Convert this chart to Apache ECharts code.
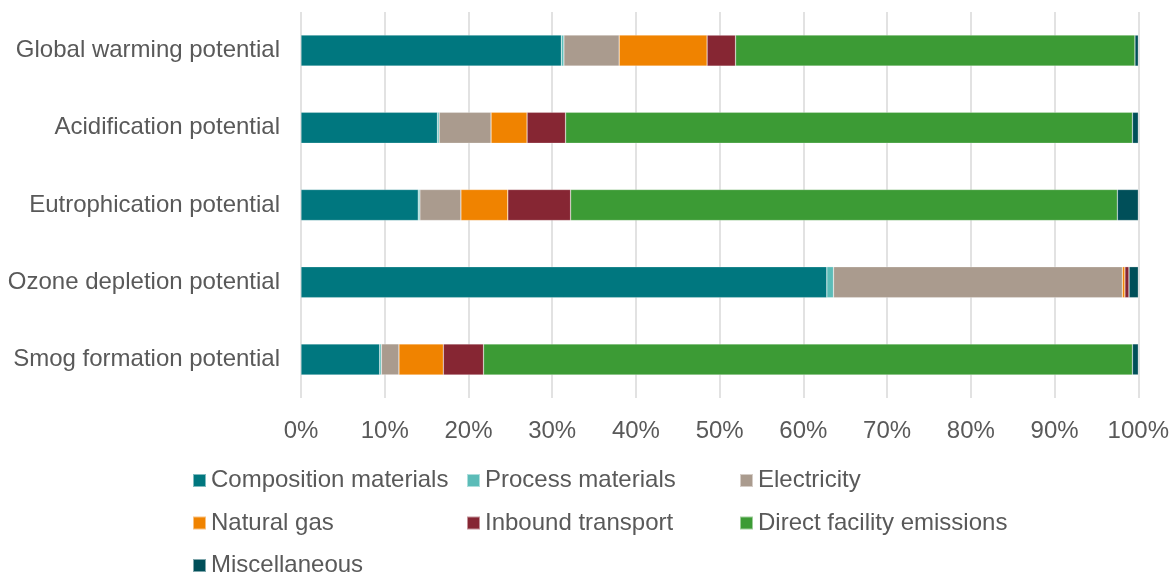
<!DOCTYPE html>
<html>
<head>
<meta charset="utf-8">
<script src="https://cdn.jsdelivr.net/npm/echarts@6/dist/echarts.min.js"></script>
<style>html,body{margin:0;padding:0;background:#fff}#c{width:1172px;height:575px}</style>
</head>
<body>
<div id="c"></div>
<script>
const categories = ['Global warming potential','Acidification potential','Eutrophication potential','Ozone depletion potential','Smog formation potential'];
const seriesNames = ['Composition materials','Process materials','Electricity','Natural gas','Inbound transport','Direct facility emissions','Miscellaneous'];
const composition = [31.1, 16.3, 14.0, 62.8, 9.4];
const processMat  = [0.3, 0.2, 0.2, 0.8, 0.2];
const electricity = [6.6, 6.2, 4.9, 34.5, 2.1];
const naturalGas  = [10.5, 4.3, 5.6, 0.3, 5.3];
const inbound     = [3.4, 4.6, 7.5, 0.5, 4.8];
const direct      = [47.7, 67.7, 65.3, 0.0, 77.5];
const misc        = [0.4, 0.7, 2.5, 1.1, 0.7];
const colors = ['#00777F','#5BBCB8','#AA9B8E','#F08300','#862633','#3C9B35','#004F59'];
const values = [composition, processMat, electricity, naturalGas, inbound, direct, misc];

const font = 'Liberation Sans, Arial, sans-serif';
const txt = {color:'#595959', fontSize:24, fontFamily:font};
// legend layout: [column x of icon, row center y] per series
const legendPos = [[192,480.5],[466,480.5],[739,480.5],[192,523],[466,523],[739,523],[192,565.5]];
const legends = seriesNames.map((n,i)=>({
  left:legendPos[i][0], top:legendPos[i][1]-12, padding:0, orient:'horizontal',
  itemWidth:13, itemHeight:13, icon:'rect', selectedMode:false, data:[n],
  textStyle:Object.assign({padding:[0,0,0,0], lineHeight:24}, txt)
}));
const chart = echarts.init(document.getElementById('c'), null, {renderer:'canvas'});
chart.setOption({
  animation:false,
  color:colors,
  grid:{left:301, right:33, top:12, bottom:177, containLabel:false},
  legend:legends,
  xAxis:{type:'value', min:0, max:100, interval:10,
    axisLabel:Object.assign({formatter:'{value}%', margin:21}, txt),
    axisLine:{show:false}, axisTick:{show:false},
    splitLine:{show:true, lineStyle:{color:'#d9d9d9', width:1.5}}},
  yAxis:{type:'category', data:categories, inverse:true,
    axisLabel:Object.assign({margin:21}, txt),
    axisLine:{show:false}, axisTick:{show:false}},
  series: seriesNames.map((n,i)=>({
    name:n, type:'bar', stack:'total', barWidth:31, data:values[i],
    itemStyle:{color:colors[i], borderColor:'rgba(255,255,255,0.5)', borderWidth:0.5}
  }))
});
</script>
</body>
</html>
